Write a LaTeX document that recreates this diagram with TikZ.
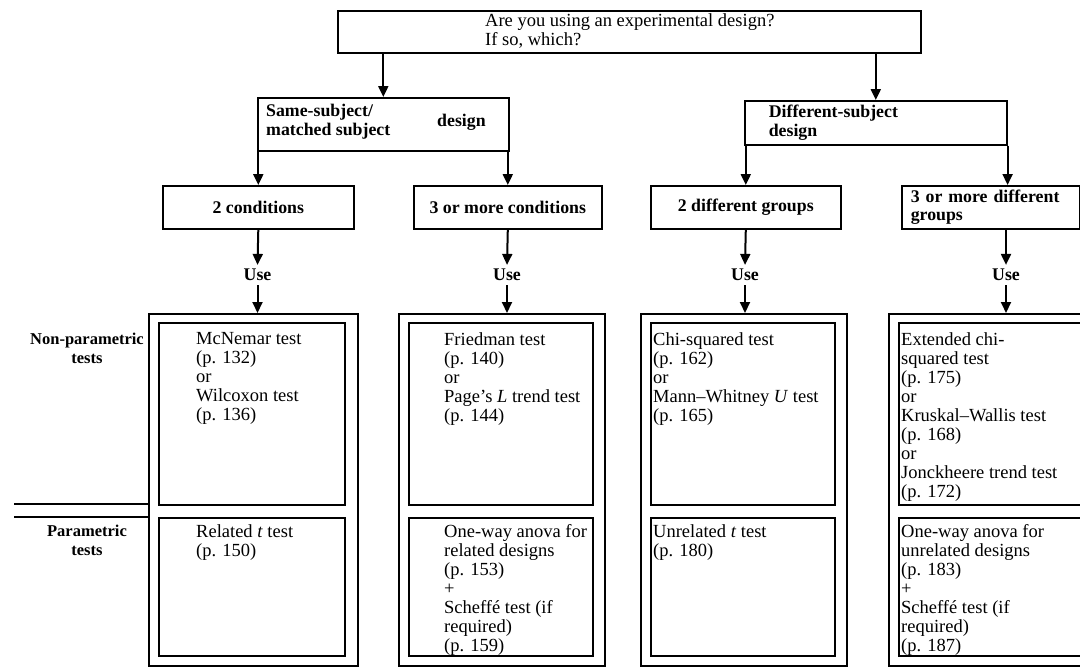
\documentclass[tikz,border=0pt]{standalone}
\usepackage{fontspec}
\setmainfont{Liberation Serif}
\usetikzlibrary{arrows.meta}
\begin{document}
\begin{tikzpicture}[x=1pt,y=-1pt,
  every node/.style={inner sep=0pt, font=\fontsize{18.5}{19}\selectfont},
  frame/.style={draw, line width=1.6pt, rectangle, anchor=north west, inner sep=0pt},
  plain/.style={anchor=north west, align=left},
  heading/.style={font=\fontsize{17.8}{18.5}\selectfont\bfseries},
  rowlabel/.style={font=\fontsize{16.5}{18.5}\selectfont\bfseries, anchor=north, align=center},
  flow/.style={line width=2pt, -{Triangle[length=11pt,width=10pt]}},
  rule/.style={line width=1.6pt}]
\useasboundingbox (0,0) rectangle (1080,670);
\clip (0,0) rectangle (1080,670);

% --- question at the top
\node[frame, minimum width=583pt, minimum height=42pt] (q) at (337,10) {};
\node[plain] (qt) at (485,13) {Are you using an experimental design?\\If so, which?};

% --- two kinds of design
\node[frame, minimum width=251pt, minimum height=53pt] (same) at (257,97) {};
\node[plain, heading] (samet) at (266,104) {Same-subject/\\matched subject};
\node[heading, anchor=west] (samed) at (437,122) {design};

\node[frame, heading, align=left, text width=214pt, inner xsep=24pt,
      minimum height=44pt] (diff) at (744,100) {Different-subject\\design};

\draw[flow] (same.north |- q.south) -- (same.north);
\draw[flow] (diff.north |- q.south) -- (diff.north);

% --- number of conditions / groups
\node[frame, heading, minimum width=191pt, minimum height=43pt] (c1) at (162,185) {2 conditions};
\node[frame, heading, minimum width=188pt, minimum height=43pt] (c2) at (413,185) {3 or more conditions};
\node[frame, heading, minimum width=190pt, minimum height=43pt] (c3) at (650,185) {2 different groups};
\node[frame, heading, align=left, text width=160pt, inner xsep=9pt,
      minimum height=43pt] (c4) at (901,185) {3 or more different\\groups};

\draw[flow] (c1.north |- same.south) -- (c1.north);
\draw[flow] (c2.north |- same.south) -- (c2.north);
\draw[flow] (c3.north |- diff.south) -- (c3.north);
\draw[flow] (diff.south east) -- (diff.south east |- c4.north);

% --- "Use" labels
\node[heading, inner sep=4pt] (u1) at (257.5,275) {Use};
\node[heading, inner sep=4pt] (u2) at (507,275) {Use};
\node[heading, inner sep=4pt] (u3) at (745,275) {Use};
\node[heading, inner sep=4pt] (u4) at (1006,275) {Use};

\draw[flow] (c1.south) -- (u1.north);
\draw[flow] (c2.south) -- (u2.north);
\draw[flow] (c3.south) -- (u3.north);
\draw[flow] (c4.south -| u4.north) -- (u4.north);

% --- outer frames of the four columns
\node[frame, minimum width=209pt, minimum height=352pt] (o1) at (148,313) {};
\node[frame, minimum width=206pt, minimum height=352pt] (o2) at (398,313) {};
\node[frame, minimum width=206pt, minimum height=352pt] (o3) at (640,313) {};
\node[frame, minimum width=206pt, minimum height=352pt] (o4) at (888,313) {};

\draw[flow] (u1.south) -- (u1.south |- o1.north);
\draw[flow] (u2.south) -- (u2.south |- o2.north);
\draw[flow] (u3.south) -- (u3.south |- o3.north);
\draw[flow] (u4.south) -- (u4.south |- o4.north);

% --- inner boxes: non-parametric (upper) and parametric (lower)
\node[frame, minimum width=186pt, minimum height=182pt] (n1) at (158,322) {};
\node[frame, minimum width=186pt, minimum height=138pt] (p1) at (158,517) {};
\node[frame, minimum width=184pt, minimum height=182pt] (n2) at (408,322) {};
\node[frame, minimum width=184pt, minimum height=138pt] (p2) at (408,517) {};
\node[frame, minimum width=184pt, minimum height=182pt] (n3) at (650,322) {};
\node[frame, minimum width=184pt, minimum height=138pt] (p3) at (650,517) {};
\node[frame, minimum width=184pt, minimum height=182pt] (n4) at (898,322) {};
\node[frame, minimum width=184pt, minimum height=138pt] (p4) at (898,517) {};

% --- row labels and the rules that separate them
\node[rowlabel] (npl) at (87,333) {Non-parametric\\tests};
\node[rowlabel] (pl) at (87,525) {Parametric\\tests};
\coordinate (r1) at (14,504);
\coordinate (r2) at (14,517);
\draw[rule] (r1) -- (r1 -| o1.west);
\draw[rule] (r2) -- (r2 -| o1.west);

% --- test names
\node[plain] (n1t) at (196,332) {McNemar test\\(p. 132)\\or\\Wilcoxon test\\(p. 136)};
\node[plain] (p1t) at (196,524) {Related \textit{t} test\\(p. 150)};
\node[plain] (n2t) at (444,332) {Friedman test\\(p. 140)\\or\\Page’s \textit{L} trend test\\(p. 144)};
\node[plain] (p2t) at (444,524) {One-way anova for\\related designs\\(p. 153)\\+\\Scheffé test (if\\required)\\(p. 159)};
\node[plain] (n3t) at (653,332) {Chi-squared test\\(p. 162)\\or\\Mann–Whitney \textit{U} test\\(p. 165)};
\node[plain] (p3t) at (653,524) {Unrelated \textit{t} test\\(p. 180)};
\node[plain] (n4t) at (901,332) {Extended chi-\\squared test\\(p. 175)\\or\\Kruskal–Wallis test\\(p. 168)\\or\\Jonckheere trend test\\(p. 172)};
\node[plain] (p4t) at (901,524) {One-way anova for\\unrelated designs\\(p. 183)\\+\\Scheffé test (if\\required)\\(p. 187)};
\end{tikzpicture}
\end{document}
